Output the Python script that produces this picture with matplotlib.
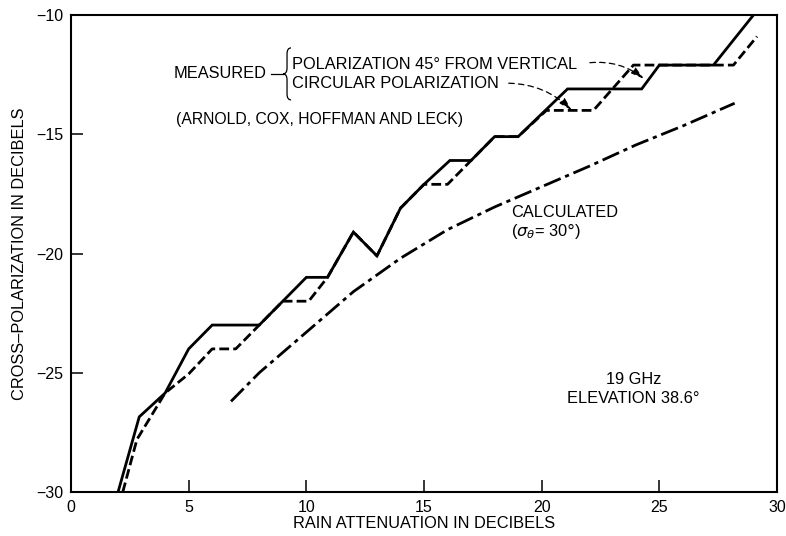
import numpy as np
import matplotlib
matplotlib.use('Agg')
import matplotlib.pyplot as plt
from matplotlib.path import Path
from matplotlib.patches import PathPatch

plt.rcParams['font.family'] = ['Liberation Sans', 'DejaVu Sans']
plt.rcParams['lines.scale_dashes'] = False

# measured, polarization 45 deg from vertical (solid)
atten_45 = [2.0, 2.9, 4.0, 5.0, 6.0, 8.0, 10.0, 10.9, 12.0, 13.0, 14.0, 15.0, 16.1, 17.0,
            18.0, 19.0, 21.1, 24.25, 25.0, 27.3, 29.0]
xpol_45 = [-30.0, -26.85, -25.85, -24.0, -23.0, -23.0, -21.0, -21.0, -19.1, -20.1, -18.1, -17.1,
           -16.1, -16.1, -15.1, -15.1, -13.1, -13.1, -12.1, -12.1, -10.0]

# measured, circular polarization (dashed)
atten_circ = [2.2, 2.8, 4.0, 5.0, 6.0, 7.0, 8.0, 9.0, 10.1, 10.9, 12.0, 13.0, 14.0, 15.0, 16.0,
              17.0, 18.0, 19.0, 20.2, 22.2, 23.9, 25.0, 28.15, 29.15]
xpol_circ = [-30.0, -27.8, -25.85, -25.05, -24.0, -24.0, -23.0, -22.0, -22.0, -21.0, -19.1, -20.1,
             -18.1, -17.1, -17.1, -16.1, -15.1, -15.1, -14.0, -14.0, -12.1, -12.1, -12.1, -10.9]

# calculated (sigma_theta = 30 deg), dash-dot
atten_calc = [6.8, 8.0, 10.0, 12.0, 14.0, 16.0, 18.0, 20.0, 22.0, 24.0, 26.0, 28.2]
xpol_calc = [-26.2, -25.0, -23.3, -21.6, -20.2, -19.0, -18.05, -17.2, -16.35, -15.45, -14.65, -13.7]

x_ticks = [0, 5, 10, 15, 20, 25, 30]
y_ticks = [-30, -25, -20, -15, -10]

fig = plt.figure(figsize=(7.86, 5.36), dpi=100)
ax = fig.add_axes([71 / 786, 44 / 536, 706 / 786, 477 / 536])

ax.plot(atten_45, xpol_45, color='black', lw=2.0, solid_joinstyle='miter')
ax.plot(atten_circ, xpol_circ, color='black', lw=2.0, dashes=(7, 3))
ax.plot(atten_calc, xpol_calc, color='black', lw=2.0, dashes=(13, 3.5, 3, 3.5))

ax.set_xlim(0, 30)
ax.set_ylim(-30, -10)
ax.set_xticks(x_ticks)
ax.set_yticks(y_ticks)
ax.tick_params(direction='in', length=8.5, width=1.1, labelsize=11.5, pad=5.5,
               top=False, right=False)
for s in ax.spines.values():
    s.set_linewidth(1.5)

ax.set_xlabel('RAIN ATTENUATION IN DECIBELS', fontsize=11.8, labelpad=1)
ax.set_ylabel('CROSS\u2013POLARIZATION IN DECIBELS', fontsize=11.8, labelpad=7)

# annotations
tsize = 11.8
ax.text(8.3, -12.47, 'MEASURED', fontsize=tsize, ha='right', va='center')
ax.plot([8.5, 9.0], [-12.47, -12.47], color='black', lw=0.9)
xt, xm, xe = 9.01, 9.18, 9.35
top, mid, bot = -11.38, -12.47, -13.56
verts = [(xe, top), (xm, top), (xm, top - 0.25),
         (xm, mid + 0.25),
         (xm, mid), (xt, mid),
         (xm, mid), (xm, mid - 0.25),
         (xm, bot + 0.25),
         (xm, bot), (xe, bot)]
codes = [Path.MOVETO, Path.CURVE3, Path.CURVE3,
         Path.LINETO,
         Path.CURVE3, Path.CURVE3,
         Path.CURVE3, Path.CURVE3,
         Path.LINETO,
         Path.CURVE3, Path.CURVE3]
ax.add_patch(PathPatch(Path(verts, codes), fill=False, lw=0.9, color='black'))

ax.text(9.4, -12.08, 'POLARIZATION 45\u00b0 FROM VERTICAL', fontsize=tsize, ha='left', va='center')
ax.text(9.4, -12.86, 'CIRCULAR POLARIZATION', fontsize=tsize, ha='left', va='center')
ax.text(4.45, -14.4, '(ARNOLD, COX, HOFFMAN AND LECK)', fontsize=11.3, ha='left', va='center')

arrow_style = dict(arrowstyle='-|>,head_length=0.8,head_width=0.22', color='black', lw=0.9,
                   linestyle=(0, (4, 3)), connectionstyle='arc3,rad=-0.2',
                   shrinkA=0, shrinkB=0)
ax.annotate('', xy=(24.35, -12.68), xytext=(22.05, -12.0), arrowprops=arrow_style)
ax.annotate('', xy=(21.28, -14.0), xytext=(18.6, -12.86), arrowprops=arrow_style)

ax.text(18.7, -18.3, 'CALCULATED', fontsize=tsize, ha='left', va='center')
ax.text(18.7, -19.05, r'($\sigma_\theta$= 30$\degree$)', fontsize=tsize, ha='left', va='center')

ax.text(23.9, -25.3, '19 GHz', fontsize=tsize, ha='center', va='center')
ax.text(23.9, -26.1, 'ELEVATION 38.6\u00b0', fontsize=tsize, ha='center', va='center')

fig.savefig('out.png', dpi=100)
